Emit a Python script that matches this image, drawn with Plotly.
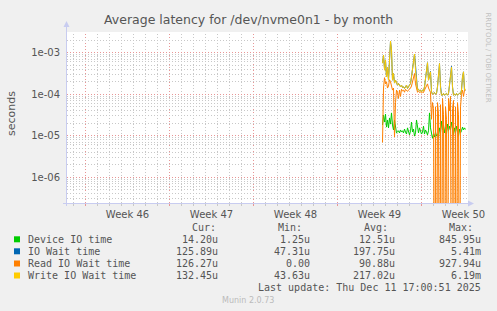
import plotly.graph_objects as go

# ---------------- data (values in microseconds, one per 2-hour step) ----------------
start_day = 24.75          # days since Monday of week 46
step_day = 1.0 / 12.0      # 2 hours

device_io_us = [18.2, 31.6, 21.4, 33.1, 16.2, 24.0, 15.5, 26.9, 19.1, 35.5,
                18.2, 13.8, 24.0, 15.5, 11.7, 12.3, 13.2, 11.7, 13.8, 12.3,
                13.2, 11.7, 14.5, 12.3, 11.0, 15.5, 11.7, 10.5, 13.2, 21.4,
                12.3, 14.5, 9.8, 11.7, 24.0, 13.8, 11.7, 15.5, 13.2, 11.0,
                12.3, 17.0, 11.0, 13.8, 12.3, 10.5, 13.2, 35.5, 15.5, 10.5,
                8.7, 11.0, 9.3, 12.3, 9.8, 11.0, 9.3, 15.5, 11.7, 22.4,
                13.8, 18.2, 11.7, 16.2, 11.0, 19.1, 13.2, 17.0, 13.8, 21.4,
                13.2, 10.5, 15.5, 11.7, 17.0, 12.3, 9.8, 14.5, 11.7, 13.2,
                16.2, 13.8, 15.5, 14.2]

io_wait_us = [562, 871, 417, 661, 263, 447, 219, 1175, 1905, 1175,
              219, 316, 186, 219, 191, 166, 182, 158, 151, 166,
              145, 151, 138, 151, 166, 138, 151, 166, 182, 263,
              447, 794, 933, 501, 166, 126, 132, 120, 126, 115,
              126, 120, 151, 263, 501, 575, 219, 316, 355, 115,
              100, 105, 110, 100, 105, 151, 380, 550, 160, 95,
              95, 105, 95, 100, 105, 95, 105, 166, 347, 470,
              151, 95, 100, 95, 105, 95, 100, 105, 100, 126,
              263, 347, 126, 126]

read_io_wait_us = [6.9, 141, 251, 178, 200, 141, 158, 224, 200, 158,
                   126, 141, 9.3, 63, 126, 112, 79, 126, 89, 132,
                   120, 126, 112, 132, 120, 117, 126, 132, 141, 158,
                   200, 282, 316, 178, 132, 112, 117, 110, 115, 107,
                   112, 110, 126, 141, 158, 178, 141, 120, 112, 25,
                   63, 45, 0, 50, 0, 63, 35, 0, 56, 0,
                   79, 32, 0, 50, 25, 0, 79, 40, 89, 0,
                   45, 71, 0, 50, 0, 63, 32, 0, 50, 100,
                   126, 89, 126, 126]

write_io_wait_us = [562, 871, 380, 661, 263, 447, 219, 1175, 1905, 1175,
                    219, 316, 186, 219, 191, 166, 182, 158, 151, 166,
                    145, 151, 138, 151, 166, 138, 151, 166, 182, 263,
                    447, 794, 933, 380, 166, 126, 132, 120, 126, 115,
                    126, 120, 151, 263, 501, 575, 219, 316, 347, 115,
                    100, 105, 110, 100, 105, 151, 380, 550, 138, 95,
                    95, 105, 95, 100, 105, 95, 105, 166, 347, 447,
                    151, 95, 100, 95, 105, 95, 100, 105, 100, 126,
                    263, 347, 126, 132]

series_names = ["Device IO time", "IO Wait time", "Read IO Wait time", "Write IO Wait time"]
series_colors = ["#00CC00", "#0066B3", "#FF8000", "#FFCC00"]
series_values = [device_io_us, io_wait_us, read_io_wait_us, write_io_wait_us]

stat_cur = ["14.20u", "125.89u", "126.27u", "132.45u"]
stat_min = ["1.25u", "47.31u", "0.00", "43.63u"]
stat_avg = ["12.51u", "197.75u", "90.88u", "217.02u"]
stat_max = ["845.95u", "5.41m", "927.94u", "6.19m"]

week_labels = ["Week 46", "Week 47", "Week 48", "Week 49", "Week 50"]
week_label_days = [3.5, 10.5, 17.5, 24.5, 31.5]
y_tick_vals = [1e-6, 1e-5, 1e-4, 1e-3]
y_tick_text = ["1e-06", "1e-05", "1e-04", "1e-03"]

title_text = "Average latency for /dev/nvme0n1 - by month"
last_update = "Last update: Thu Dec 11 17:00:51 2025"

# ---------------- layout geometry (pixels) ----------------
W, H = 497, 311
L, R, T, B = 67, 468, 32, 203
X_RANGE = [-1.5417, 31.875]
Y_RANGE = [-6.62, -2.50]

def pxx(x):
    return (x - L) / (R - L)

def pxy(y):
    return (B - y) / (B - T)

FLOOR = 1e-12  # rrdtool draws zeros at the bottom of a log graph

fig = go.Figure()
for name, color, vals in zip(series_names, series_colors, series_values):
    xs = [start_day + i * step_day for i in range(len(vals))]
    ys = [max(v * 1e-6, FLOOR) for v in vals]
    fig.add_trace(go.Scatter(x=xs, y=ys, mode="lines", name=name,
                             line=dict(color=color, width=1), showlegend=False,
                             hoverinfo="skip"))

minor_y = []
for e in range(-7, -2):
    for k in range(2, 10):
        minor_y.append(k * 10 ** e)

grid_gray = "rgb(200,200,200)"
grid_red = "rgb(232,150,150)"
dotpat = "1px,2px"

fig.update_layout(
    width=W, height=H,
    margin=dict(l=L, r=W - R, t=T, b=H - B, pad=0),
    paper_bgcolor="#F0F0F0", plot_bgcolor="#FFFFFF",
    font=dict(family="DejaVu Sans", size=10, color="#555555"),
    xaxis=dict(range=X_RANGE, tickmode="array", tickvals=week_label_days,
               ticktext=week_labels, showgrid=False, zeroline=False,
               showline=False, ticks="", ticklabelstandoff=4,
               tickfont=dict(size=10, color="#555555")),
    yaxis=dict(type="log", range=Y_RANGE, tickmode="array", tickvals=y_tick_vals,
               ticktext=y_tick_text, showgrid=True, gridcolor=grid_red,
               griddash=dotpat, gridwidth=1, zeroline=False, showline=False,
               ticks="", ticklabelstandoff=6,
               tickfont=dict(size=10, color="#555555"),
               minor=dict(tickmode="array", tickvals=minor_y, showgrid=True,
                          gridcolor=grid_gray, griddash=dotpat, gridwidth=1)),
)

shapes = []
# vertical day grid (grey) and week grid (red), with small ticks below the axis
for d in range(-1, 32):
    col = grid_red if d % 7 == 0 else grid_gray
    shapes.append(dict(type="line", xref="x", yref="paper", layer="below",
                       x0=d, x1=d, y0=0, y1=1,
                       line=dict(color=col, width=1, dash=dotpat)))
    shapes.append(dict(type="line", xref="x", yref="paper", layer="below",
                       x0=d, x1=d, y0=pxy(203), y1=pxy(206),
                       line=dict(color=col, width=1)))

axis_col = "#C8CCF0"
# left axis with arrow
shapes.append(dict(type="line", xref="paper", yref="paper",
                   x0=pxx(66.5), x1=pxx(66.5), y0=pxy(206), y1=pxy(24),
                   line=dict(color=axis_col, width=1)))
shapes.append(dict(type="path", xref="paper", yref="paper",
                   path="M {} {} L {} {} L {} {} Z".format(pxx(63.5), pxy(27), pxx(69.5), pxy(27), pxx(66.5), pxy(21)),
                   fillcolor=axis_col, line=dict(color=axis_col, width=0)))
# bottom axis with arrow
shapes.append(dict(type="line", xref="paper", yref="paper",
                   x0=pxx(63), x1=pxx(470), y0=pxy(203.5), y1=pxy(203.5),
                   line=dict(color=axis_col, width=1)))
shapes.append(dict(type="path", xref="paper", yref="paper",
                   path="M {} {} L {} {} L {} {} Z".format(pxx(468), pxy(200.5), pxx(468), pxy(206.5), pxx(474), pxy(203.5)),
                   fillcolor=axis_col, line=dict(color=axis_col, width=0)))

ann = []
ann.append(dict(text=title_text, x=pxx(248), y=pxy(19.5), xref="paper", yref="paper",
                showarrow=False, xanchor="center", yanchor="middle",
                font=dict(family="DejaVu Sans", size=12.5, color="#555555")))
ann.append(dict(text="seconds", x=pxx(11), y=pxy(114), xref="paper", yref="paper",
                showarrow=False, textangle=-90, xanchor="center", yanchor="middle",
                font=dict(family="DejaVu Sans", size=11, color="#555555")))
ann.append(dict(text="RRDTOOL / TOBI OETIKER", x=pxx(487.5), y=pxy(57), xref="paper", yref="paper",
                showarrow=False, textangle=90, xanchor="center", yanchor="middle",
                font=dict(family="DejaVu Sans", size=7, color="#C0C0C0")))

mono = "DejaVu Sans Mono"
txt_col = "#555555"
row_y = [239.3, 251.3, 263.5, 275.5]
header_y = 227.7
for label, xl in zip(["Cur:", "Min:", "Avg:", "Max:"], [190.3, 276, 361.7, 446.7]):
    ann.append(dict(text=label, x=pxx(xl), y=pxy(header_y), xref="paper", yref="paper",
                    showarrow=False, xanchor="left", yanchor="middle",
                    font=dict(family=mono, size=10, color=txt_col)))
col_right = [220, 311.7, 396.7, 482.7]
for i, (name, color) in enumerate(zip(series_names, series_colors)):
    y = row_y[i]
    shapes.append(dict(type="rect", xref="paper", yref="paper",
                       x0=pxx(14), x1=pxx(20), y0=pxy(y + 3), y1=pxy(y - 3),
                       fillcolor=color, line=dict(width=0)))
    ann.append(dict(text=name, x=pxx(26), y=pxy(y), xref="paper", yref="paper",
                    showarrow=False, xanchor="left", yanchor="middle",
                    font=dict(family=mono, size=10, color=txt_col)))
    for vals, xr in zip([stat_cur, stat_min, stat_avg, stat_max], col_right):
        ann.append(dict(text=vals[i], x=pxx(xr), y=pxy(y), xref="paper", yref="paper",
                        showarrow=False, xanchor="right", yanchor="middle",
                        font=dict(family=mono, size=10, color=txt_col)))
ann.append(dict(text=last_update, x=pxx(482.7), y=pxy(287.3), xref="paper", yref="paper",
                showarrow=False, xanchor="right", yanchor="middle",
                font=dict(family=mono, size=10, color=txt_col)))
ann.append(dict(text="Munin 2.0.73", x=pxx(248), y=pxy(300), xref="paper", yref="paper",
                showarrow=False, xanchor="center", yanchor="middle",
                font=dict(family="DejaVu Sans", size=8, color="#BBBBBB")))

fig.update_layout(shapes=shapes, annotations=ann)
fig.write_html("out.html")
